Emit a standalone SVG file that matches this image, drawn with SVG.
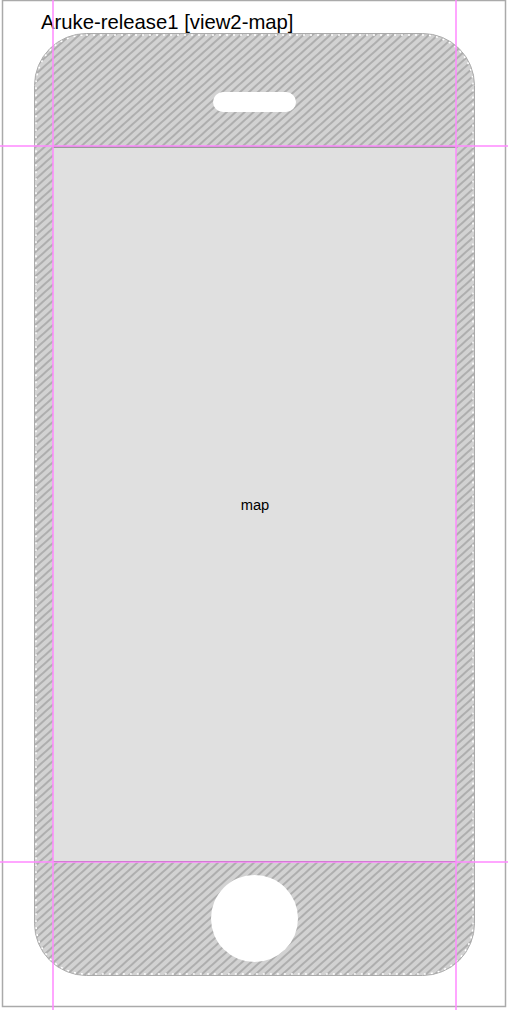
<svg xmlns="http://www.w3.org/2000/svg" width="508" height="1010" viewBox="0 0 508 1010">
<style>
.title{font-family:"Liberation Sans",Arial,sans-serif;font-size:20.3px;fill:#000}
.lbl{font-family:"Liberation Sans",Arial,sans-serif;font-size:14.7px;fill:#000}
.guide{stroke:#ff88ff;stroke-width:1.5}
</style>
<defs>
<pattern id="hatch" width="6" height="6" patternUnits="userSpaceOnUse" patternTransform="rotate(48)">
<rect width="6" height="6" fill="#d2d2d2"/>
<rect x="0" y="0" width="2" height="6" fill="#aeaeae"/>
</pattern>
</defs>
<rect x="0" y="0" width="508" height="1010" fill="#fff"/>
<rect x="2.5" y="0.5" width="503" height="1006" fill="none" stroke="#aaa" stroke-width="1.5"/>
<text class="title" x="41" y="29">Aruke-release1 [view2-map]</text>
<g id="phone">
<rect x="34.5" y="33.5" width="440" height="942" rx="52" ry="52" fill="url(#hatch)" stroke="#aaa" stroke-width="1"/>
<rect x="36" y="35" width="437" height="939" rx="50" ry="50" fill="none" stroke="#fff" stroke-width="1.5" stroke-dasharray="2 5"/>
</g>
<g id="speaker">
<rect x="213" y="92" width="83" height="20" rx="10" ry="10" fill="#fff"/>
</g>
<g id="screen">
<rect x="53" y="146" width="403" height="716" fill="#e0e0e0"/>
<line x1="53" y1="147" x2="456" y2="147" stroke="#555" stroke-width="1"/>
<line x1="53" y1="861.5" x2="456" y2="861.5" stroke="#555" stroke-width="1"/>
<text class="lbl" x="255" y="510" text-anchor="middle">map</text>
</g>
<g id="home-button">
<circle cx="254.5" cy="918.5" r="43.5" fill="#fff"/>
</g>
<g id="guides">
<line class="guide" x1="53" y1="0" x2="53" y2="1010"/>
<line class="guide" x1="456" y1="0" x2="456" y2="1010"/>
<line class="guide" x1="0" y1="146" x2="508" y2="146"/>
<line class="guide" x1="0" y1="862" x2="508" y2="862"/>
</g>
</svg>
